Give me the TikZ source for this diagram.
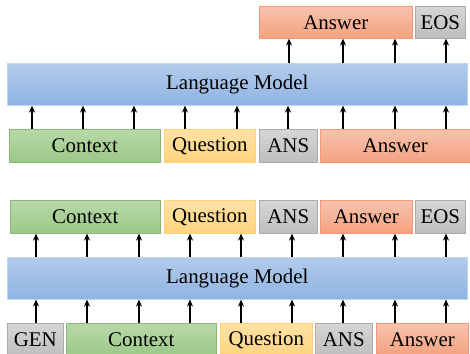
\documentclass[tikz,border=0pt]{standalone}
\usepackage{fontspec}
\setmainfont{Liberation Serif}
\usepackage{xcolor}
\usepackage{tikz}
\usetikzlibrary{arrows.meta}

\definecolor{lmTop}{HTML}{B2CBEA}
\definecolor{lmBot}{HTML}{8FB4E3}
\definecolor{ctxTop}{HTML}{B8D8AA}
\definecolor{ctxBot}{HTML}{9CC987}
\definecolor{qTop}{HTML}{FFE2A6}
\definecolor{qBot}{HTML}{FFD47E}
\definecolor{ansTop}{HTML}{F7C3AE}
\definecolor{ansBot}{HTML}{F4A17F}
\definecolor{tagTop}{HTML}{D6D6D6}
\definecolor{tagBot}{HTML}{BEBEBE}

\tikzset{
  tok/.style={rectangle, inner sep=0pt, anchor=north west,
    font=\fontsize{20.9}{24}\selectfont},
  lm/.style={tok, top color=lmTop, bottom color=lmBot, draw=lmTop!80!white, line width=0.6pt},
  ctx/.style={tok, top color=ctxTop, bottom color=ctxBot, draw=ctxBot!90!black, line width=0.6pt},
  ques/.style={tok, top color=qTop, bottom color=qBot, draw=qBot!95!orange, line width=0.6pt},
  answ/.style={tok, top color=ansTop, bottom color=ansBot, draw=ansBot!95!red, line width=0.6pt},
  tag/.style={tok, top color=tagTop, bottom color=tagBot, draw=tagBot!90!black, line width=0.6pt},
  arr/.style={-{Stealth[length=7pt,width=6pt]}, line width=1.6pt},
}

\begin{document}
\begin{tikzpicture}[x=1pt,y=-1pt]
  \useasboundingbox (0,0) rectangle (470,353);

  % top: fine-tuning
  \node[answ, minimum width=153pt, minimum height=32pt] (answOutA) at (259,6) {Answer};
  \node[tag, minimum width=50pt, minimum height=32pt] (eosOutA) at (415,6) {EOS};
  \node[lm, minimum width=460pt, minimum height=42pt] (lmA) at (7,63) {Language Model};
  \node[ctx, minimum width=151pt, minimum height=33pt] (ctxA) at (9,129) {Context};
  \node[ques, minimum width=91pt, minimum height=33pt] (quesA) at (164,129) {Question};
  \node[tag, minimum width=58pt, minimum height=33pt] (ansA) at (259,129) {ANS};
  \node[answ, minimum width=150pt, minimum height=33pt] (answA) at (320,129) {Answer};

  \foreach \x in {32,83,134,185,237,288,343,395,446}
    \draw[arr] (ctxA.north -| \x,0) -- (lmA.south -| \x,0);
  \foreach \x in {289,343,395}
    \draw[arr] (lmA.north -| \x,0) -- (answOutA.south -| \x,0);
  \draw[arr] (lmA.north -| 446,0) -- (eosOutA.south -| 446,0);

  % bottom: generation
  \node[ctx, minimum width=150pt, minimum height=33pt] (ctxOutB) at (10,200) {Context};
  \node[ques, minimum width=91pt, minimum height=33pt] (quesOutB) at (164,200) {Question};
  \node[tag, minimum width=58pt, minimum height=33pt] (ansOutB) at (259,200) {ANS};
  \node[answ, minimum width=92pt, minimum height=33pt] (answOutB) at (320,200) {Answer};
  \node[tag, minimum width=50pt, minimum height=33pt] (eosOutB) at (415,200) {EOS};
  \node[lm, minimum width=460pt, minimum height=42pt] (lmB) at (7,257) {Language Model};
  \node[tag, minimum width=56pt, minimum height=33pt] (genB) at (7,323) {GEN};
  \node[ctx, minimum width=150pt, minimum height=33pt] (ctxB) at (66,323) {Context};
  \node[ques, minimum width=92pt, minimum height=33pt] (quesB) at (220,323) {Question};
  \node[tag, minimum width=57pt, minimum height=33pt] (ansB) at (315,323) {ANS};
  \node[answ, minimum width=92pt, minimum height=33pt] (answB) at (376,323) {Answer};

  \foreach \x in {36,87,139,190,241,292,343,395,446} {
    \draw[arr] (genB.north -| \x,0) -- (lmB.south -| \x,0);
    \draw[arr] (lmB.north -| \x,0) -- (ctxOutB.south -| \x,0);
  }
\end{tikzpicture}
\end{document}
